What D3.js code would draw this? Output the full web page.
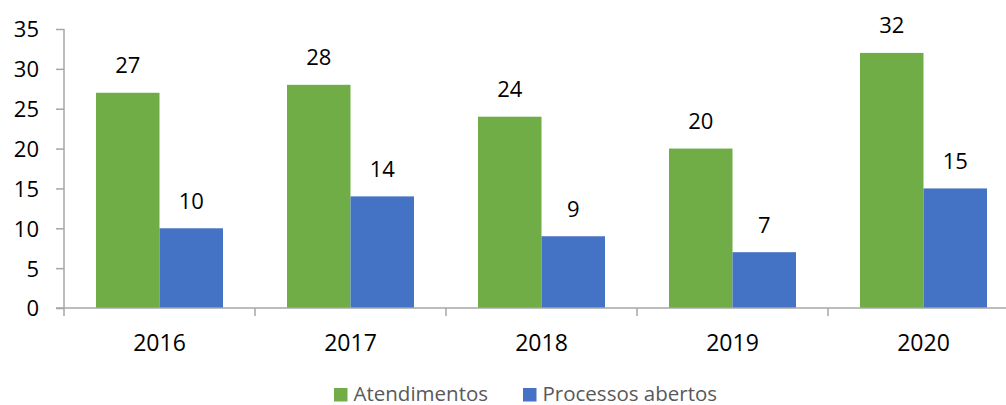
<!DOCTYPE html>
<html>
<head>
<meta charset="utf-8">
<script src="https://cdn.jsdelivr.net/npm/d3@7/dist/d3.min.js"></script>
<style>
  html, body { margin: 0; padding: 0; background: #fff; }
  svg { display: block; font-family: "Open Sans", "Noto Sans", sans-serif; }
</style>
</head>
<body>
<svg id="chart" width="1006" height="405"></svg>
<script>
// Yearly counts: service calls vs. cases opened
const years = ["2016", "2017", "2018", "2019", "2020"];
const atendimentos = [27, 28, 24, 20, 32];
const processosAbertos = [10, 14, 9, 7, 15];
const yTicks = [0, 5, 10, 15, 20, 25, 30, 35];
const seriesNames = ["Atendimentos", "Processos abertos"];
const seriesColors = ["#70AD47", "#4472C4"];

const svg = d3.select("#chart");
const axisColor = "#A6A6A6";

const x0 = 64, yBase = 308, yTop = 29, bandW = 191;

const x = d3.scaleBand().domain(years).range([x0, x0 + bandW * years.length]).paddingInner(0).paddingOuter(0);
const y = d3.scaleLinear().domain([0, 35]).range([yBase, yTop]);
const groupW = 127;
const xs = d3.scaleBand().domain(seriesNames).range([0, groupW]).padding(0);

const rows = years.map((yr, i) => ({ year: yr, values: [atendimentos[i], processosAbertos[i]] }));

// Bars
const groups = svg.append("g").selectAll("g").data(rows).join("g")
  .attr("transform", d => `translate(${x(d.year) + (x.bandwidth() - groupW) / 2},0)`);

groups.selectAll("rect").data(d => d.values.map((v, k) => ({ name: seriesNames[k], v, k })))
  .join("rect")
  .attr("x", d => xs(d.name))
  .attr("width", xs.bandwidth())
  .attr("y", d => y(d.v))
  .attr("height", d => y(0) - y(d.v))
  .attr("fill", d => seriesColors[d.k]);

// Value labels
groups.selectAll("text").data(d => d.values.map((v, k) => ({ name: seriesNames[k], v, k })))
  .join("text")
  .attr("x", d => xs(d.name) + xs.bandwidth() / 2)
  .attr("y", d => y(d.v) - 19.5)
  .attr("text-anchor", "middle")
  .attr("font-size", 22)
  .attr("fill", "#000")
  .text(d => d.v);

// Y axis
const yAxis = svg.append("g").attr("transform", `translate(${x0},0)`)
  .call(d3.axisLeft(y).tickValues(yTicks).tickSize(8).tickPadding(17));
yAxis.select(".domain").attr("stroke", axisColor).attr("stroke-width", 1.5).attr("d", `M0,${yTop}V${yBase}`);
yAxis.selectAll(".tick line").attr("stroke", axisColor).attr("stroke-width", 1.5);
yAxis.selectAll(".tick text").attr("font-size", 22).attr("fill", "#000")
  .attr("font-family", "'Open Sans', sans-serif").attr("dy", "0.36em");

// X axis: ticks on category boundaries
const xAxisG = svg.append("g").attr("transform", `translate(0,${yBase})`);
xAxisG.append("line").attr("x1", x0 - 8).attr("x2", x0 + bandW * years.length)
  .attr("stroke", axisColor).attr("stroke-width", 1.5);
const bounds = years.map(yr => x(yr)).concat([x0 + bandW * years.length]);
xAxisG.selectAll("line.tick").data(bounds).join("line").attr("class", "tick")
  .attr("x1", d => d).attr("x2", d => d).attr("y1", 0).attr("y2", 8)
  .attr("stroke", axisColor).attr("stroke-width", 1.5);
xAxisG.selectAll("text").data(years).join("text")
  .attr("x", d => x(d) + x.bandwidth() / 2)
  .attr("y", 42.5)
  .attr("text-anchor", "middle")
  .attr("font-size", 23)
  .attr("fill", "#000")
  .text(d => d);

// Legend
const legendX = [334, 523];
const legend = svg.append("g").selectAll("g").data(seriesNames).join("g")
  .attr("transform", (d, i) => `translate(${legendX[i]},388)`);
legend.append("rect").attr("width", 13.5).attr("height", 13.5).attr("fill", (d, i) => seriesColors[i]);
legend.append("text").attr("x", 19.5).attr("y", 12.5).attr("font-size", 20.5).attr("fill", "#595959").text(d => d);
</script>
</body>
</html>
